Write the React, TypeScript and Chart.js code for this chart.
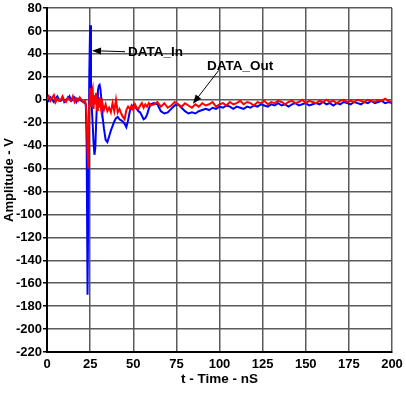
import { useEffect, useRef } from 'react';
import { Chart, registerables } from 'chart.js';

Chart.register(...registerables);

const TIME = [
  0, 1, 2, 3, 4, 5, 6, 7, 8, 9, 10, 11, 12, 13, 14, 15, 16, 17, 18, 19, 20, 21, 22,
  22.5, 23, 23.5, 24, 24.5, 25, 25.5, 26, 26.5, 27, 27.5, 28, 28.5, 29, 29.5, 30, 30.5, 31, 31.5, 32,
  33, 34, 35, 36, 37, 38, 39, 40, 41, 42, 43, 44, 45, 46, 47, 48, 49, 50, 51, 52, 53, 54, 55, 56, 57, 58, 59, 60,
  62, 64, 66, 68, 70, 72, 74, 76, 78, 80, 82, 84, 86, 88, 90, 92, 94, 96, 98, 100,
  102, 104, 106, 108, 110, 112, 114, 116, 118, 120, 122, 124, 126, 128, 130, 132, 134, 136, 138, 140,
  142, 144, 146, 148, 150, 152, 154, 156, 158, 160, 162, 164, 166, 168, 170, 172, 174, 176, 178, 180,
  182, 184, 186, 188, 190, 192, 194, 196, 198, 200,
];

const DATA_IN = [
  1, -1, 2, 0, -2, 1, 3, 0, -1, 2, -2, 0, 1, 3, -1, 0, 2, -2, 1, 0, -1, -2, -3,
  -4, -40, -170, -80, 20, 65, 15, -8, -22, -38, -48, -42, -20, -2, 8, 12, 13, 9, 0, -12,
  -25, -35, -37, -32, -27, -23, -19, -16, -15, -17, -18, -19, -21, -24, -18, -10, -7, -5, -6, -8, -10, -11, -14, -17, -16, -13, -8, -4,
  -3, -4, -10, -12, -11, -8, -5, -4, -7, -10,
  -12, -11, -12, -10, -9, -8, -9, -7, -8, -6,
  -7, -5, -6, -8, -6, -7, -8, -6, -7, -5,
  -6, -4, -5, -6, -4, -5, -3, -5, -4, -6,
  -4, -3, -5, -4, -3, -5, -4, -3, -4, -2,
  -4, -3, -5, -3, -4, -2, -3, -4, -2, -3,
  -4, -2, -3, -1, -3, -2, -1, -3, -2, -3,
];

const DATA_OUT = [
  0, 3, -1, 2, 4, -2, 1, -1, 0, 3, -1, -2, 2, 0, -1, 3, -2, 1, -1, 2, 0, -2, -1,
  -4, -15, -45, -60, -5, 10, -6, 5, 9, -8, 4, -4, 6, -9, 1, -7, 2, -5, -10, -2,
  -9, -4, -10, -7, -11, -3, -10, 0, -11, -8, -12, -15, -17, -9, -6, -8, -5, -9, -4, -7, -8, -5, -3, -7, -4, -6, -3, -5,
  -4, -2, -6, -3, -7, -5, -2, -4, -6, -3,
  -5, -7, -4, -6, -3, -5, -4, -2, -6, -4,
  -3, -5, -2, -4, -3, -1, -4, -2, -3, -5,
  -2, -3, -1, -4, -2, -3, -1, -2, -4, -2,
  -1, -3, -2, 0, -3, -1, -2, -3, -1, -2,
  0, -2, -1, -3, -1, 0, -2, -1, -2, 0,
  -1, -2, 0, -1, -2, 0, -1, 1, -1, -2,
];

const SERIES_NAMES = ['DATA_Out', 'DATA_In'];

// Callouts in data units: text anchor (left, middle), arrow tail and tip
const CALLOUT_TEXT = ['DATA_In', 'DATA_Out'];
const CALLOUT_TEXT_X = [47, 92.75];
const CALLOUT_TEXT_Y = [41, 28.8];
const CALLOUT_TAIL_X = [45.2, 99.5];
const CALLOUT_TAIL_Y = [41.9, 25.5];
const CALLOUT_TIP_X = [26.1, 84.6];
const CALLOUT_TIP_Y = [42.8, -3.5];

const FONT = '"Liberation Sans", Arial, sans-serif';

const calloutPlugin = {
  id: 'callouts',
  afterDatasetsDraw(chart: any) {
    const { ctx, scales } = chart;
    const xs = scales.x;
    const ys = scales.y;
    ctx.save();
    for (let i = 0; i < CALLOUT_TEXT.length; i++) {
      const tx = xs.getPixelForValue(CALLOUT_TEXT_X[i]);
      const ty = ys.getPixelForValue(CALLOUT_TEXT_Y[i]);
      const ax = xs.getPixelForValue(CALLOUT_TAIL_X[i]);
      const ay = ys.getPixelForValue(CALLOUT_TAIL_Y[i]);
      const bx = xs.getPixelForValue(CALLOUT_TIP_X[i]);
      const by = ys.getPixelForValue(CALLOUT_TIP_Y[i]);
      ctx.font = `bold 13.5px ${FONT}`;
      ctx.textBaseline = 'middle';
      ctx.textAlign = 'left';
      ctx.fillStyle = '#000';
      ctx.fillText(CALLOUT_TEXT[i], tx, ty);
      const ang = Math.atan2(by - ay, bx - ax);
      const headLen = 9;
      const headW = 3.5;
      ctx.strokeStyle = '#000';
      ctx.lineWidth = 1;
      ctx.beginPath();
      ctx.moveTo(ax, ay);
      ctx.lineTo(bx - Math.cos(ang) * headLen * 0.8, by - Math.sin(ang) * headLen * 0.8);
      ctx.stroke();
      ctx.beginPath();
      ctx.moveTo(bx, by);
      ctx.lineTo(
        bx - Math.cos(ang) * headLen - Math.sin(ang) * headW,
        by - Math.sin(ang) * headLen + Math.cos(ang) * headW
      );
      ctx.lineTo(
        bx - Math.cos(ang) * headLen + Math.sin(ang) * headW,
        by - Math.sin(ang) * headLen - Math.cos(ang) * headW
      );
      ctx.closePath();
      ctx.fill();
    }
    ctx.restore();
  },
};

export default function App() {
  const ref = useRef<HTMLCanvasElement | null>(null);

  useEffect(() => {
    if (!ref.current) return;
    const chart = new Chart(ref.current, {
      type: 'line',
      data: {
        datasets: [
          {
            label: SERIES_NAMES[0],
            data: TIME.map((t, i) => ({ x: t, y: DATA_OUT[i] })),
            borderColor: '#ff0000',
            borderWidth: 2,
            pointRadius: 0,
            tension: 0,
          },
          {
            label: SERIES_NAMES[1],
            data: TIME.map((t, i) => ({ x: t, y: DATA_IN[i] })),
            borderColor: '#0000ff',
            borderWidth: 2,
            pointRadius: 0,
            tension: 0,
          },
        ],
      },
      options: {
        animation: false,
        responsive: false,
        maintainAspectRatio: false,
        layout: { padding: { left: 0, right: 14, top: 8, bottom: 2 } },
        plugins: {
          legend: { display: false },
          tooltip: { enabled: false },
        },
        scales: {
          x: {
            type: 'linear',
            min: 0,
            max: 200,
            ticks: {
              stepSize: 25,
              color: '#000',
              font: { family: FONT, size: 13, weight: 'bold' },
              padding: 5,
              maxRotation: 0,
            },
            grid: { color: '#5a5a5a', lineWidth: 1.5, drawTicks: false },
            border: { color: '#000', width: 2 },
            title: {
              display: true,
              text: 't - Time - nS',
              color: '#000',
              font: { family: FONT, size: 13.5, weight: 'bold' },
              padding: { top: 0, bottom: 4 },
            },
            afterFit: (s: any) => {
              s.height = 39;
              s.paddingLeft = 0;
              s.paddingRight = 0;
            },
          },
          y: {
            min: -220,
            max: 80,
            ticks: {
              stepSize: 20,
              color: '#000',
              font: { family: FONT, size: 13, weight: 'bold' },
              padding: 1,
            },
            grid: { color: '#5a5a5a', lineWidth: 1.5, tickLength: 4, tickColor: '#000' },
            border: { color: '#000', width: 2 },
            title: {
              display: true,
              text: 'Amplitude - V',
              color: '#000',
              font: { family: FONT, size: 13, weight: 'bold' },
              padding: { top: 2, bottom: 4 },
            },
            afterFit: (s: any) => {
              s.width = 47;
              s.paddingTop = 0;
              s.paddingBottom = 0;
            },
          },
        },
      },
      plugins: [calloutPlugin],
    });
    return () => chart.destroy();
  }, []);

  return (
    <div style={{ position: 'fixed', left: 0, top: 0, width: 406, height: 393, background: '#fff' }}>
      <canvas ref={ref} width={406} height={393} style={{ width: 406, height: 393, display: 'block' }} />
    </div>
  );
}
